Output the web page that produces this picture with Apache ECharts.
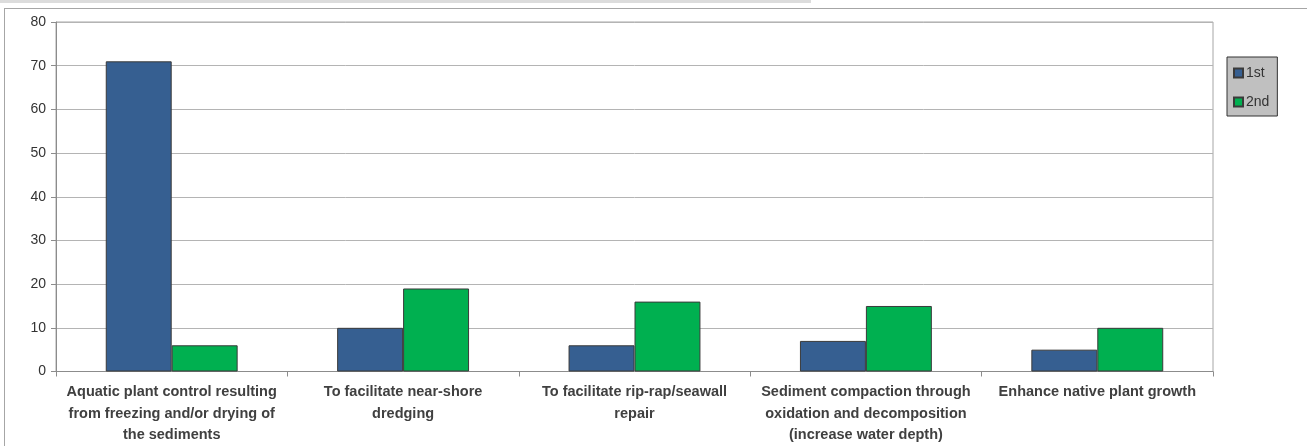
<!DOCTYPE html>
<html>
<head>
<meta charset="UTF-8">
<title>Bar chart</title>
<script src="https://cdn.jsdelivr.net/npm/echarts@6/dist/echarts.min.js"></script>
<style>
  html, body { margin: 0; padding: 0; background: #fff; }
  #strip { position: absolute; left: 0; top: 0; width: 811px; height: 3px; background: #dcdcdc; }
  #chart1 { position: absolute; left: 4px; top: 8px; width: 1303px; height: 438px;
            border-top: 1px solid #a6a6a6; border-left: 1px solid #a6a6a6; box-sizing: border-box; }
</style>
</head>
<body>
<div id="strip"></div>
<div id="chart1"></div>
<script type="text/javascript">
// categories (line breaks as in the original labels)
var categories = [
  'Aquatic plant control resulting\nfrom freezing and/or drying of\nthe sediments',
  'To facilitate near-shore\ndredging',
  'To facilitate rip-rap/seawall\nrepair',
  'Sediment compaction through\noxidation and decomposition\n(increase water depth)',
  'Enhance native plant growth'
];
var firstValues = [71, 10, 6, 7, 5];
var secondValues = [6, 19, 16, 15, 10];
var yTicks = [0, 10, 20, 30, 40, 50, 60, 70, 80];

var chart1 = echarts.init(document.getElementById('chart1'));
var option = {
  animation: false,
  backgroundColor: '#fff',
  textStyle: { fontFamily: 'Liberation Sans' },
  legend: {
    orient: 'vertical',
    left: 1222,
    top: 48,
    width: 51,
    padding: [9, 8, 7, 6],
    itemGap: 15,
    itemWidth: 9,
    itemHeight: 9,
    backgroundColor: '#c0c0c0',
    borderColor: '#333',
    borderWidth: 1,
    icon: 'rect',
    textStyle: { fontSize: 14, color: '#333', padding: [0, 0, 0, -2] },
    data: ['1st', '2nd']
  },
  grid: {
    left: 51, top: 13, right: 94, bottom: 67,
    show: true, borderColor: '#a6a6a6', borderWidth: 1,
    containLabel: false
  },
  xAxis: {
    type: 'category',
    data: categories,
    axisLine: { lineStyle: { color: '#8c8c8c' } },
    axisTick: { show: true, length: 5, lineStyle: { color: '#8c8c8c' } },
    axisLabel: {
      interval: 0, margin: 10,
      fontSize: 14.5, fontWeight: 'bold', color: '#404040', lineHeight: 21.5
    }
  },
  yAxis: {
    type: 'value',
    min: 0, max: yTicks[yTicks.length - 1], interval: 10,
    axisLine: { show: true, lineStyle: { color: '#8c8c8c' } },
    axisTick: { show: true, length: 5, lineStyle: { color: '#8c8c8c' } },
    axisLabel: { fontSize: 14, color: '#333', margin: 10 },
    splitLine: { lineStyle: { color: '#b4b4b4', width: 1 } }
  },
  series: [{
    name: '1st',
    type: 'bar',
    data: firstValues,
    barGap: '0%',
    barCategoryGap: '43%',
    itemStyle: { color: '#365f91', borderColor: '#3a3a3a', borderWidth: 1 }
  }, {
    name: '2nd',
    type: 'bar',
    data: secondValues,
    itemStyle: { color: '#00b050', borderColor: '#3a3a3a', borderWidth: 1 }
  }]
};
chart1.setOption(option);
</script>
</body>
</html>
